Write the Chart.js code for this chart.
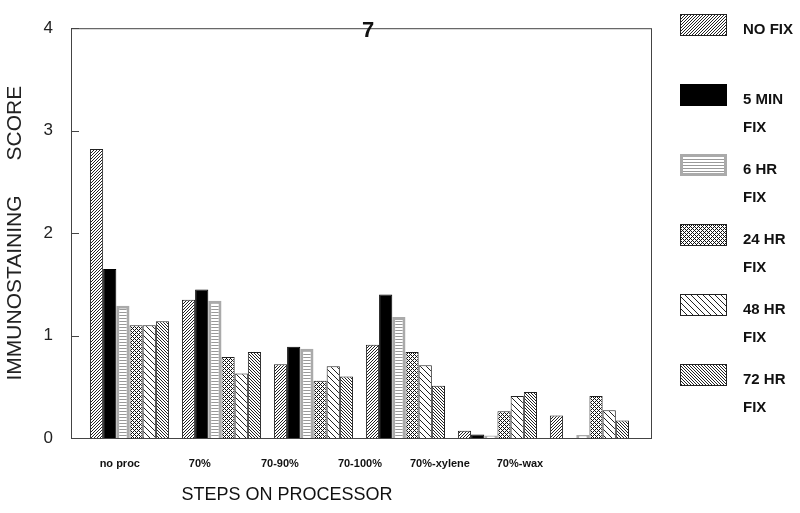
<!DOCTYPE html>
<html>
<head>
<meta charset="utf-8">
<script src="https://cdn.jsdelivr.net/npm/chart.js@4.4.0/dist/chart.umd.min.js"></script>
<style>
  html, body { margin: 0; padding: 0; background: #fff; }
  #wrap { width: 800px; height: 513px; }
</style>
</head>
<body>
<div id="wrap"><canvas id="chart" width="800" height="513"></canvas></div>
<script>
const steps = ['no proc', '70%', '70-90%', '70-100%', '70%-xylene', '70%-wax'];
const seriesNames = ['NO FIX', '5 MIN\nFIX', '6 HR\nFIX', '24 HR\nFIX', '48 HR\nFIX', '72 HR\nFIX'];

const noFix   = [2.82, 1.35, 0.72, 0.91, 0.07, 0.22];
const min5Fix = [1.65, 1.45, 0.89, 1.40, 0.035, 0];
const hr6Fix  = [1.29, 1.34, 0.87, 1.18, 0.025, 0.03];
const hr24Fix = [1.10, 0.79, 0.56, 0.84, 0.26, 0.41];
const hr48Fix = [1.10, 0.63, 0.70, 0.71, 0.41, 0.27];
const hr72Fix = [1.14, 0.84, 0.60, 0.51, 0.45, 0.17];

const yTicks = [0, 1, 2, 3, 4];

Chart.defaults.font.family = '"Liberation Sans", Arial, sans-serif';

// small pixel tiles for the hatch fills
function pattern(size, isDark, dark, light) {
  const c = document.createElement('canvas');
  c.width = size;
  c.height = size;
  const g = c.getContext('2d');
  g.fillStyle = light;
  g.fillRect(0, 0, size, size);
  g.fillStyle = dark;
  for (let y = 0; y < size; y++) {
    for (let x = 0; x < size; x++) {
      if (isDark(x, y)) g.fillRect(x, y, 1, 1);
    }
  }
  return g.createPattern(c, 'repeat');
}

const styles = [
  { bg: pattern(3, (x, y) => (x + y) % 3 === 0, '#222', '#fff'), border: '#222', bw: 1 },
  { bg: '#000', border: '#000', bw: 1 },
  { bg: pattern(3, (x, y) => y % 3 === 0, '#999', '#fff'), border: '#aaa', bw: 3 },
  { bg: pattern(4, (x, y) => (x + y) % 4 === 0 || (x - y + 4) % 4 === 0, '#111', '#fff'), border: '#222', bw: 1 },
  { bg: pattern(6, (x, y) => (x - y + 6) % 6 === 0, '#222', '#fff'), border: '#222', bw: 1 },
  { bg: pattern(3, (x, y) => (x - y + 3) % 3 === 0, '#222', '#fff'), border: '#222', bw: 1 }
];

const series = [noFix, min5Fix, hr6Fix, hr24Fix, hr48Fix, hr72Fix];

const framePlugin = {
  id: 'frame',
  afterDatasetsDraw(chart) {
    const { ctx, chartArea: a } = chart;
    const y = chart.scales.y;
    ctx.save();
    ctx.strokeStyle = '#444';
    ctx.lineWidth = 1;
    ctx.strokeRect(a.left + 0.5, a.top + 0.5, a.right - a.left - 1, a.bottom - a.top);
    // inward tick marks
    yTicks.forEach(v => {
      const py = Math.round(y.getPixelForValue(v)) + 0.5;
      ctx.beginPath();
      ctx.moveTo(a.left, py);
      ctx.lineTo(a.left + 8, py);
      ctx.stroke();
    });
    ctx.restore();
  },
  afterDraw(chart) {
    const { ctx } = chart;
    ctx.save();
    ctx.fillStyle = '#111';
    ctx.textAlign = 'center';
    ctx.textBaseline = 'middle';
    ctx.font = 'bold 22px "Liberation Sans", Arial, sans-serif';
    ctx.fillText('7', 368, 31);
    ctx.font = '18px "Liberation Sans", Arial, sans-serif';
    ctx.fillText('STEPS ON PROCESSOR', 287, 495);

    // legend on the right
    const left = 680, top = 14, step = 70, w = 47, h = 22;
    ctx.textAlign = 'left';
    ctx.font = 'bold 15px "Liberation Sans", Arial, sans-serif';
    chart.data.datasets.forEach((ds, i) => {
      const t = top + step * i;
      ctx.fillStyle = ds.backgroundColor;
      ctx.fillRect(left, t, w, h);
      ctx.strokeStyle = ds.borderColor;
      ctx.lineWidth = ds.borderWidth;
      const o = ds.borderWidth / 2;
      ctx.strokeRect(left + o, t + o, w - 2 * o, h - 2 * o);
      ctx.fillStyle = '#111';
      ds.label.split('\n').forEach((line, k) => {
        ctx.fillText(line, 743, t + 16 + k * 28);
      });
    });
    ctx.restore();
  }
};

new Chart(document.getElementById('chart'), {
  type: 'bar',
  data: {
    datasets: series.map((vals, i) => ({
      label: seriesNames[i],
      data: vals.map((v, k) => ({ x: k, y: v })),
      backgroundColor: styles[i].bg,
      borderColor: styles[i].border,
      borderWidth: styles[i].bw,
      barPercentage: 1,
      categoryPercentage: 0.86
    }))
  },
  options: {
    responsive: false,
    animation: false,
    layout: {
      padding: { top: 8, right: 148, bottom: 0, left: 0 }
    },
    plugins: {
      legend: { display: false },
      tooltip: { enabled: false }
    },
    scales: {
      x: {
        type: 'linear',
        display: false,
        offset: false,
        min: -0.636,
        max: 5.68,
        afterBuildTicks: s => { s.ticks = steps.map((_, i) => ({ value: i })); }
      },
      xl: {
        type: 'linear',
        position: 'bottom',
        offset: false,
        min: -0.61,
        max: 6.65,
        afterBuildTicks: s => { s.ticks = steps.map((_, i) => ({ value: i })); },
        grid: { display: false, drawTicks: false, offset: false },
        border: { display: false },
        ticks: {
          autoSkip: false,
          maxRotation: 0,
          padding: 19,
          color: '#111',
          font: { size: 11, weight: 'bold' },
          callback: (v, i) => steps[i]
        },
        afterFit: s => { s.height = 75; }
      },
      y: {
        min: 0,
        max: 4,
        afterBuildTicks: s => { s.ticks = yTicks.map(v => ({ value: v })); },
        grid: { display: false, drawTicks: false },
        border: { display: false },
        ticks: {
          padding: 18,
          color: '#222',
          font: { size: 17 }
        },
        title: {
          display: true,
          text: 'IMMUNOSTAINING      SCORE',
          color: '#222',
          font: { size: 21 },
          padding: { top: 3, bottom: 0 }
        },
        afterFit: s => { s.width = 71; }
      }
    }
  },
  plugins: [framePlugin]
});
</script>
</body>
</html>
